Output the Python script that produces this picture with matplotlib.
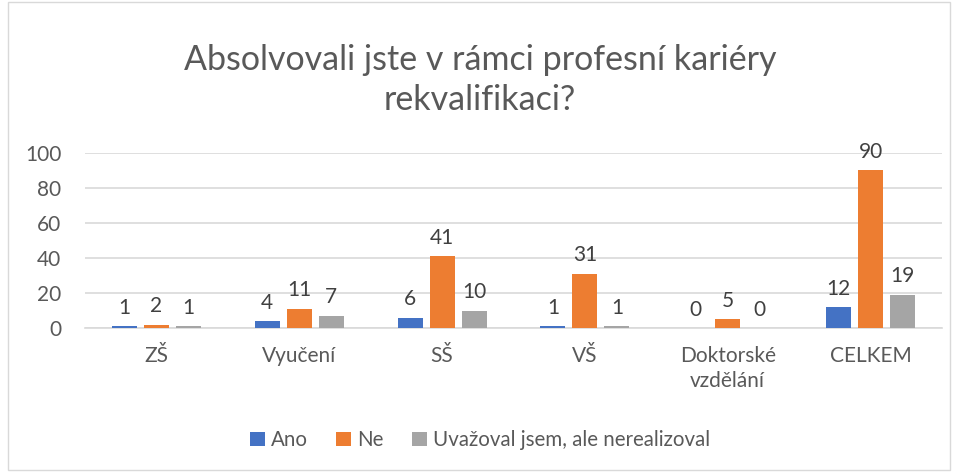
import numpy as np
import matplotlib
matplotlib.use('Agg')
import matplotlib.pyplot as plt
from matplotlib.patches import Rectangle

categories = ['ZŠ', 'Vyučení', 'SŠ', 'VŠ', 'Doktorské\nvzdělání', 'CELKEM']
series_names = ['Ano', 'Ne', 'Uvažoval jsem, ale nerealizoval']
ano = [1, 4, 6, 1, 0, 12]
ne = [2, 11, 41, 31, 5, 90]
uvazoval = [1, 7, 10, 1, 0, 19]
colors = ['#4472C4', '#ED7D31', '#A5A5A5']
title = 'Absolvovali jste v rámci profesní kariéry\nrekvalifikaci?'

plt.rcParams['font.family'] = ['Lato', 'DejaVu Sans']
text_color = '#595959'

fig = plt.figure(figsize=(9.6, 4.72), dpi=100)
# chart border
fig.patches.append(Rectangle((8 / 960, 2 / 472), 942 / 960, 468 / 472, transform=fig.transFigure,
                             fill=False, edgecolor='#D9D9D9', linewidth=1))

ax = fig.add_axes([85 / 960, (472 - 328) / 472, 857 / 960, 175 / 472])
x = np.arange(len(categories))
width = 0.175
step = 0.224
for i, (vals, name) in enumerate(zip([ano, ne, uvazoval], series_names)):
    bars = ax.bar(x + (i - 1) * step, vals, width, color=colors[i], label=name, zorder=3)
    for b, v in zip(bars, vals):
        ax.annotate(str(v), (b.get_x() + b.get_width() / 2, v), xytext=(0, 6),
                    textcoords='offset points', ha='center', va='bottom',
                    fontsize=15, color='#404040')

ax.set_xlim(-0.5, len(categories) - 0.5)
ax.set_ylim(0, 100)
ax.set_yticks(range(0, 101, 20))
ax.set_xticks(x)
ax.set_xticklabels(categories, linespacing=1.3)
ax.yaxis.grid(True, color='#D9D9D9', linewidth=1.2, zorder=0)
for s in ['top', 'right', 'left']:
    ax.spines[s].set_visible(False)
ax.spines['bottom'].set_color('#D9D9D9')
ax.spines['bottom'].set_linewidth(1.2)
ax.tick_params(axis='both', length=0, labelsize=15, colors=text_color)
ax.tick_params(axis='x', pad=13)
ax.tick_params(axis='y', pad=17)

fig.text(0.5, 1 - 80 / 472, title, ha='center', va='center', fontsize=24.5,
         color=text_color, linespacing=1.3)

fig.legend(loc='center', bbox_to_anchor=(0.5, 1 - 440 / 472), ncol=3, frameon=False,
           fontsize=14.8, labelcolor=text_color, handlelength=0.7, handleheight=0.7,
           handletextpad=0.3, columnspacing=1.4)

fig.savefig('out.png', dpi=100)
